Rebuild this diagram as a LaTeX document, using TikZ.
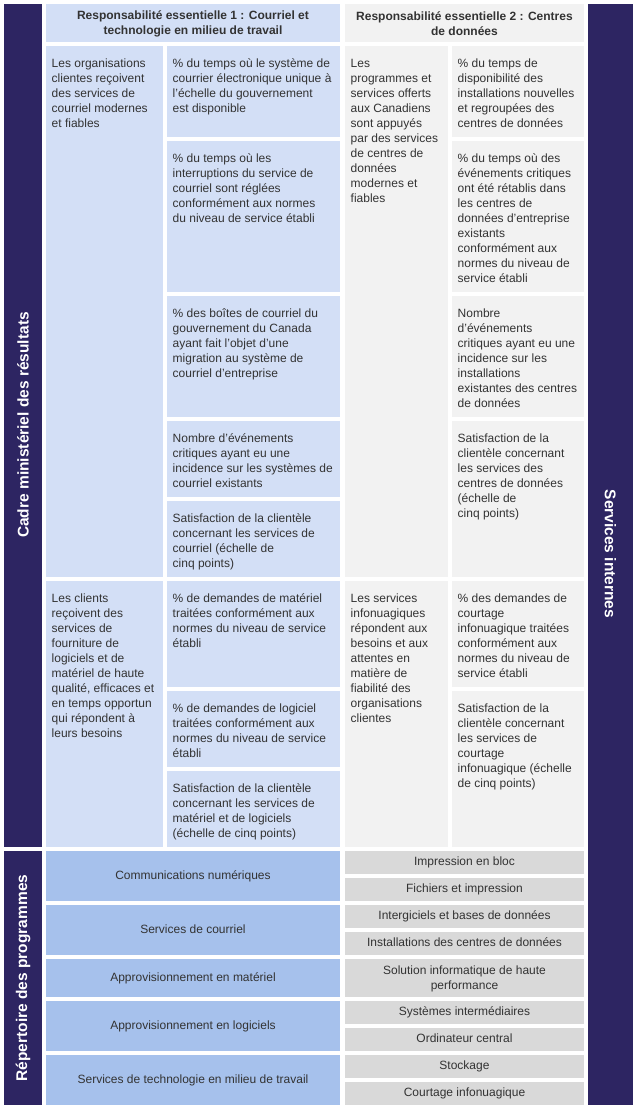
\documentclass[tikz,border=0pt]{standalone}
\usepackage{fontspec}
\setmainfont{Liberation Sans}
\definecolor{darkbar}{HTML}{2D2562}
\definecolor{lblue}{HTML}{D3DFF6}
\definecolor{lgray}{HTML}{F2F2F2}
\definecolor{pblue}{HTML}{A6C1EC}
\definecolor{pgray}{HTML}{D9D9D9}
\definecolor{txtcol}{HTML}{333333}
\newcommand\cellt[7]{%
  \fill[#6] (#2,#3) rectangle (#4,#5);
  \node[celltext] (#1) at (#2+5.5,#3+10.5) {\strut #7};}
\newcommand\progc[7]{%
  \fill[#6] (#2,#3) rectangle (#4,#5);
  \node[progtext] (#1) at ({(#2+#4)/2},{(#3+#5)/2}) {#7};}
\begin{document}
\begin{tikzpicture}[x=1pt,y=-1pt,
  celltext/.style={anchor=north west,inner sep=0pt,align=left,
    font=\fontsize{12}{15}\selectfont,text=txtcol},
  progbase/.style={anchor=center,inner sep=0pt,align=center,
    font=\fontsize{12}{15}\selectfont,text=txtcol},
  progtext/.style={progbase,text height=9pt,text depth=3pt},
  headtext/.style={anchor=center,inner sep=0pt,align=center,
    font=\fontsize{12}{15}\selectfont\bfseries,text=txtcol},
  bartext/.style={anchor=center,inner sep=0pt,text=white,
    font=\fontsize{15.5}{18}\selectfont\bfseries}]
\useasboundingbox (0,0) rectangle (637,1109);
\fill[white] (0,0) rectangle (637,1109);
% dark bars
\fill[darkbar] (4,4) rectangle (42,847);
\fill[darkbar] (4,851) rectangle (42,1105);
\fill[darkbar] (588,4) rectangle (633,1105);
\node[bartext,rotate=90] (cmr) at (23,425) {Cadre ministériel des résultats};
\node[bartext,rotate=90] (rdp) at (23,978) {Répertoire des programmes};
\node[bartext,rotate=-90] (si) at (610.5,554) {Services internes};
% headers
\fill[lblue] (46,4) rectangle (340,42);
\node[headtext] (h1) at (193,24) {Responsabilité essentielle 1 : Courriel et\\technologie en milieu de travail};
\fill[lgray] (345,4) rectangle (584,42);
\node[headtext] (h2) at (464.5,24) {Responsabilité essentielle 2 : Centres\\de données};
% row 1 left
\cellt{o1}{46}{46}{163}{577}{lblue}{Les organisations\\clientes reçoivent\\des services de\\courriel modernes\\et fiables}
\cellt{i11}{167}{46}{340}{137}{lblue}{\% du temps où le système de\\courrier électronique unique à\\l’échelle du gouvernement\\est disponible}
\cellt{i12}{167}{141}{340}{292}{lblue}{\% du temps où les\\interruptions du service de\\courriel sont réglées\\conformément aux normes\\du niveau de service établi}
\cellt{i13}{167}{296}{340}{417}{lblue}{\% des boîtes de courriel du\\gouvernement du Canada\\ayant fait l’objet d’une\\migration au système de\\courriel d’entreprise}
\cellt{i14}{167}{421}{340}{497}{lblue}{Nombre d’événements\\critiques ayant eu une\\incidence sur les systèmes de\\courriel existants}
\cellt{i15}{167}{501}{340}{577}{lblue}{Satisfaction de la clientèle\\concernant les services de\\courriel (échelle de\\cinq points)}
% row 1 right
\cellt{o2}{345}{46}{448}{577}{lgray}{Les\\programmes et\\services offerts\\aux Canadiens\\sont appuyés\\par des services\\de centres de\\données\\modernes et\\fiables}
\cellt{i21}{452}{46}{584}{137}{lgray}{\% du temps de\\disponibilité des\\installations nouvelles\\et regroupées des\\centres de données}
\cellt{i22}{452}{141}{584}{292}{lgray}{\% du temps où des\\événements critiques\\ont été rétablis dans\\les centres de\\données d’entreprise\\existants\\conformément aux\\normes du niveau de\\service établi}
\cellt{i23}{452}{296}{584}{417}{lgray}{Nombre\\d’événements\\critiques ayant eu une\\incidence sur les\\installations\\existantes des centres\\de données}
\cellt{i24}{452}{421}{584}{577}{lgray}{Satisfaction de la\\clientèle concernant\\les services des\\centres de données\\(échelle de\\cinq points)}
% row 2 left
\cellt{o3}{46}{581}{163}{847}{lblue}{Les clients\\reçoivent des\\services de\\fourniture de\\logiciels et de\\matériel de haute\\qualité, efficaces et\\en temps opportun\\qui répondent à\\leurs besoins}
\cellt{i31}{167}{581}{340}{687}{lblue}{\% de demandes de matériel\\traitées conformément aux\\normes du niveau de service\\établi}
\cellt{i32}{167}{691}{340}{767}{lblue}{\% de demandes de logiciel\\traitées conformément aux\\normes du niveau de service\\établi}
\cellt{i33}{167}{771}{340}{847}{lblue}{Satisfaction de la clientèle\\concernant les services de\\matériel et de logiciels\\(échelle de cinq points)}
% row 2 right
\cellt{o4}{345}{581}{448}{847}{lgray}{Les services\\infonuagiques\\répondent aux\\besoins et aux\\attentes en\\matière de\\fiabilité des\\organisations\\clientes}
\cellt{i41}{452}{581}{584}{687}{lgray}{\% des demandes de\\courtage\\infonuagique traitées\\conformément aux\\normes du niveau de\\service établi}
\cellt{i42}{452}{691}{584}{847}{lgray}{Satisfaction de la\\clientèle concernant\\les services de\\courtage\\infonuagique (échelle\\de cinq points)}
% programs left
\progc{p1}{46}{851}{340}{901}{pblue}{Communications numériques}
\progc{p2}{46}{905}{340}{955}{pblue}{Services de courriel}
\progc{p3}{46}{959}{340}{997}{pblue}{Approvisionnement en matériel}
\progc{p4}{46}{1001}{340}{1051}{pblue}{Approvisionnement en logiciels}
\progc{p5}{46}{1055}{340}{1105}{pblue}{Services de technologie en milieu de travail}
% programs right
\progc{q1}{345}{851}{584}{874}{pgray}{Impression en bloc}
\progc{q2}{345}{878}{584}{901}{pgray}{Fichiers et impression}
\progc{q3}{345}{905}{584}{928}{pgray}{Intergiciels et bases de données}
\progc{q4}{345}{932}{584}{955}{pgray}{Installations des centres de données}
\fill[pgray] (345,959) rectangle (584,997);
\node[progbase] (q5) at (464.5,978.5) {Solution informatique de haute\\performance};
\progc{q6}{345}{1001}{584}{1024}{pgray}{Systèmes intermédiaires}
\progc{q7}{345}{1028}{584}{1051}{pgray}{Ordinateur central}
\progc{q8}{345}{1055}{584}{1078}{pgray}{Stockage}
\progc{q9}{345}{1082}{584}{1105}{pgray}{Courtage infonuagique}
\end{tikzpicture}
\end{document}
